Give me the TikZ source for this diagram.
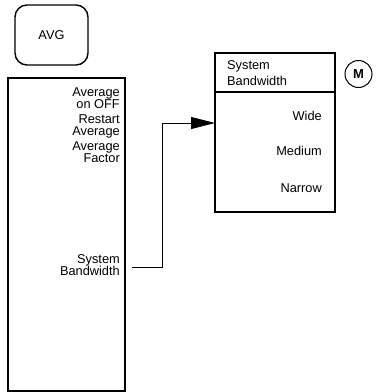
\documentclass[tikz,border=0pt]{standalone}
\usepackage{fontspec}
\setmainfont{Liberation Sans}
\usetikzlibrary{arrows.meta}
\tikzset{
  lbl/.style={inner sep=0pt, font=\fontsize{12.8}{12}\selectfont},
  frame/.style={draw=black, line width=1.1pt},
  conn/.style={draw=black, line width=0.8pt},
}
\begin{document}
\begin{tikzpicture}[x=1pt,y=-1pt]
\useasboundingbox (0,0) rectangle (380,392);
% AVG key
\node[frame, line width=1.4pt, rounded corners=12pt, minimum width=73pt, minimum height=60pt, inner sep=0pt] (avg) at (51.5,35) {};
\node[lbl] (avgt) at (51.5,35) {AVG};
% left menu box
\draw[frame] (8,78) rectangle (125,391);
\node[lbl, anchor=base east] (t1) at (120,96) {Average};
\node[lbl, anchor=base east] (t2) at (120,108.2) {on OFF};
\node[lbl, anchor=base east] (t3) at (120,123) {Restart};
\node[lbl, anchor=base east] (t4) at (120,135.2) {Average};
\node[lbl, anchor=base east] (t5) at (120,150.5) {Average};
\node[lbl, anchor=base east] (t6) at (120,162.7) {Factor};
\node[lbl, anchor=base east] (t7) at (120,263) {System};
\node[lbl, anchor=base east] (t8) at (120,275.2) {Bandwidth};
% right menu box
\draw[frame] (215,53) rectangle (335,212);
\draw[frame] (215,92) -- (335,92);
\coordinate (rin) at (215,123);
\node[lbl, anchor=base west] (h1) at (227,69) {System};
\node[lbl, anchor=base west] (h2) at (227,85) {Bandwidth};
\node[lbl, anchor=base east] (w) at (322,120) {Wide};
\node[lbl, anchor=base east] (m) at (322,155) {Medium};
\node[lbl, anchor=base east] (n) at (322,192) {Narrow};
% M circle
\node[draw=black, line width=1pt, circle, minimum size=27pt, inner sep=0pt, font=\fontsize{13}{13}\selectfont\bfseries] (mc) at (358.5,74) {M};
% connector
\coordinate (cs) at (132,267);
\draw[conn, -{Triangle[length=24pt,width=12pt]}] (cs) -- (162,267) |- (rin);
\end{tikzpicture}
\end{document}
